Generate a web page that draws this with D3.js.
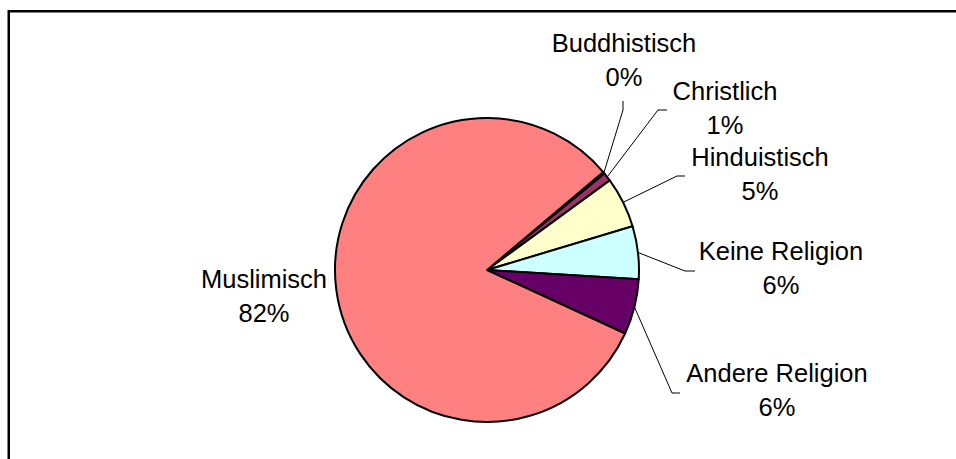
<!DOCTYPE html>
<html>
<head>
<meta charset="utf-8">
<style>
  body { margin: 0; background: #fff; }
  svg { display: block; }
</style>
</head>
<body>
<svg width="956" height="459" font-family="'Liberation Sans', Arial, sans-serif" font-size="25.5" text-anchor="middle"></svg>
<script src="https://d3js.org/d3.v7.min.js"></script>
<script>

var categories = ["Buddhistisch", "Christlich", "Hinduistisch", "Keine Religion", "Andere Religion", "Muslimisch"];
var values = [0.2, 0.9, 5.4, 5.6, 5.9, 82.0];
var colors = ["#9999FF", "#993366", "#FFFFCC", "#CCFFFF", "#660066", "#FF8080"];

// where excel put each label (centre x, first baseline) and the leader elbow
var labelPos = [[624, 52], [725, 100], [760, 166], [781, 260], [777, 382], [264, 288]];
var elbows = [[623, 110, 623, 101], [658, 110, 667, 110], [677, 176, 685, 176],
              [685, 271, 695, 271], [672, 393, 680, 393], null];

var svg = d3.select("svg"),
    cx = 487, cy = 270, r = 152;

var total = d3.sum(values);

// chart frame, runs off the right and bottom of the picture
svg.append("rect")
    .attr("x", 8.75).attr("y", 11.25)
    .attr("width", 990).attr("height", 500)
    .attr("fill", "none").attr("stroke", "#000").attr("stroke-width", 2.5);

var pie = d3.pie()
    .sort(null)
    .startAngle(49.9 * Math.PI / 180)
    .endAngle((49.9 + 360) * Math.PI / 180);

var arc = d3.arc().innerRadius(0).outerRadius(r);

var arcs = pie(values);

var g = svg.append("g").attr("transform", "translate(" + cx + "," + cy + ")");

g.selectAll("path")
  .data(arcs)
  .enter().append("path")
    .attr("d", arc)
    .attr("fill", function(d, i) { return colors[i]; })
    .attr("stroke", "#000")
    .attr("stroke-width", 2)
    .attr("stroke-linejoin", "round");

// leader lines
arcs.forEach(function(d, i) {
  if (!elbows[i]) return;
  var a = (d.startAngle + d.endAngle) / 2,
      x0 = cx + r * Math.sin(a),
      y0 = cy - r * Math.cos(a),
      e = elbows[i];
  svg.append("polyline")
      .attr("points", [x0, y0, e[0], e[1], e[2], e[3]].join(","))
      .attr("fill", "none")
      .attr("stroke", "#000")
      .attr("stroke-width", 1);
});

var label = svg.selectAll(".label")
  .data(arcs)
  .enter().append("text")
    .attr("class", "label")
    .attr("fill", "#000");

label.append("tspan")
    .attr("x", function(d, i) { return labelPos[i][0]; })
    .attr("y", function(d, i) { return labelPos[i][1]; })
    .text(function(d, i) { return categories[i]; });

label.append("tspan")
    .attr("x", function(d, i) { return labelPos[i][0]; })
    .attr("y", function(d, i) { return labelPos[i][1] + 33.5; })
    .text(function(d) { return Math.round(d.value / total * 100) + "%"; });

</script>
</body>
</html>
